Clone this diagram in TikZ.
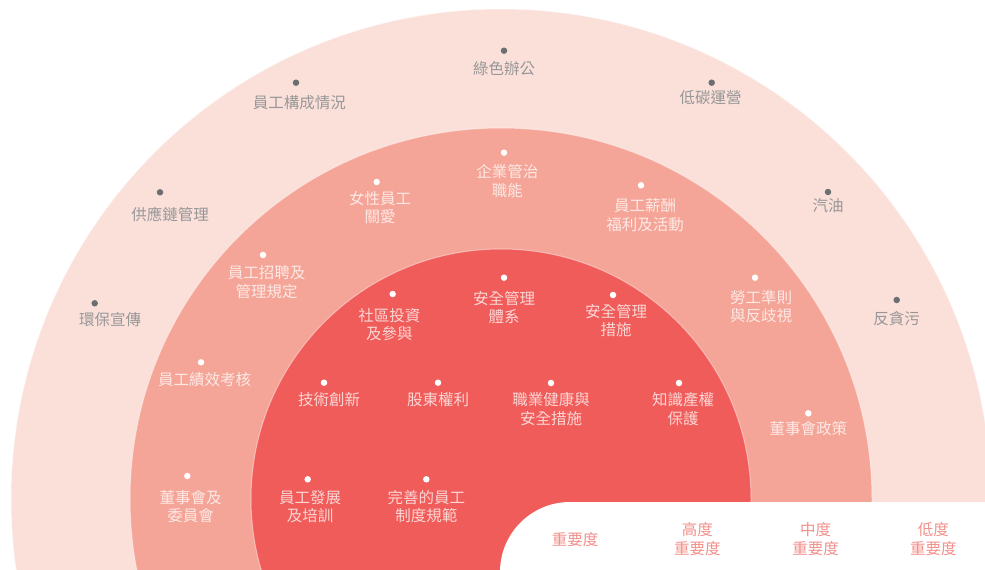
\documentclass[tikz,border=0pt]{standalone}
\usepackage{fontspec}
\setmainfont{Noto Sans CJK TC}
\definecolor{ringA}{HTML}{FBE0DA}
\definecolor{ringB}{HTML}{F5A597}
\definecolor{ringC}{HTML}{F05C59}
\definecolor{dotgray}{HTML}{6D6E71}
\definecolor{labgray}{HTML}{979797}
\definecolor{legtxt}{HTML}{F2908B}
\begin{document}
\begin{tikzpicture}[x=1pt,y=-1pt,
  ring/.style={draw=white,draw opacity=0.45,line width=1pt},
  gdot/.style={circle,fill=dotgray,inner sep=0pt,minimum size=6.5pt},
  wdot/.style={circle,fill=white,inner sep=0pt,minimum size=6.5pt},
  lab/.style={align=center,inner sep=0pt,font=\fontsize{15.5}{18.5}\selectfont},
  glabel/.style={lab,text=labgray},
  wlabel/.style={lab,text=white,text opacity=0.75},
  leglabel/.style={lab,text=legtxt}]
\useasboundingbox (0,0) rectangle (985,570);
\begin{scope}
\clip (0,0) rectangle (985,570);
\fill[white] (0,0) rectangle (985,570);
\filldraw[ring,fill=ringA] (501,499) circle (490pt);
\filldraw[ring,fill=ringB] (501,499) circle (371pt);
\filldraw[ring,fill=ringC] (501,499) circle (250pt);
\fill[white] (1000,600) -- (500,600) [rounded corners=70pt] -- (500,502) [sharp corners] -- (1000,502) -- cycle;
\end{scope}

% outer ring (low importance)
\node[gdot] (d1) at (504,50.7) {};
\node[glabel] (t1) at (504,68.3) {綠色辦公};
\node[gdot] (d2) at (296,82.7) {};
\node[glabel] (t2) at (299.3,103) {員工構成情況};
\node[gdot] (d3) at (711.7,82.7) {};
\node[glabel] (t3) at (710.7,97.3) {低碳運營};
\node[gdot] (d4) at (160,192.3) {};
\node[glabel] (t4) at (170,214.3) {供應鏈管理};
\node[gdot] (d5) at (828,192) {};
\node[glabel] (t5) at (828,206) {汽油};
\node[gdot] (d6) at (94.7,303.3) {};
\node[glabel] (t6) at (110,320) {環保宣傳};
\node[gdot] (d7) at (896.7,300) {};
\node[glabel] (t7) at (896.7,318.3) {反貪污};

% middle ring (medium importance)
\node[wdot] (m1) at (504,152.7) {};
\node[wlabel] (n1) at (507.3,181.2) {企業管治\\職能};
\node[wdot] (m2) at (376.7,182) {};
\node[wlabel] (n2) at (380,207.5) {女性員工\\關愛};
\node[wdot] (m3) at (641,185.3) {};
\node[wlabel] (n3) at (645,215.3) {員工薪酬\\福利及活動};
\node[wdot] (m4) at (263,255) {};
\node[wlabel] (n4) at (266.7,282.2) {員工招聘及\\管理規定};
\node[wdot] (m5) at (755,277.7) {};
\node[wlabel] (n5) at (761,306.7) {勞工準則\\與反歧視};
\node[wdot] (m6) at (201,362.3) {};
\node[wlabel] (n6) at (204.7,380) {員工績效考核};
\node[wdot] (m7) at (808.3,413.3) {};
\node[wlabel] (n7) at (808.3,429) {董事會政策};
\node[wdot] (m8) at (187.3,476) {};
\node[wlabel] (n8) at (190.7,506.7) {董事會及\\委員會};

% inner ring (high importance)
\node[wdot] (c1) at (504,277.7) {};
\node[wlabel] (e1) at (504,307.5) {安全管理\\體系};
\node[wdot] (c2) at (392.7,294) {};
\node[wlabel] (e2) at (389.3,324.7) {社區投資\\及參與};
\node[wdot] (c3) at (613,295) {};
\node[wlabel] (e3) at (616,320.5) {安全管理\\措施};
\node[wdot] (c4) at (324,382.7) {};
\node[wlabel] (e4) at (329,400) {技術創新};
\node[wdot] (c5) at (438,382.7) {};
\node[wlabel] (e5) at (438,400) {股東權利};
\node[wdot] (c6) at (551,383) {};
\node[wlabel] (e6) at (551,409) {職業健康與\\安全措施};
\node[wdot] (c7) at (679,383) {};
\node[wlabel] (e7) at (683,409) {知識產權\\保護};
\node[wdot] (c8) at (307.7,479.3) {};
\node[wlabel] (e8) at (310,506.7) {員工發展\\及培訓};
\node[wdot] (c9) at (426.3,479.3) {};
\node[wlabel] (e9) at (426.3,506.7) {完善的員工\\制度規範};

% legend
\node[leglabel] (l0) at (575,540) {重要度};
\node[leglabel] (l1) at (697.3,539.2) {高度\\重要度};
\node[leglabel] (l2) at (815.7,539.2) {中度\\重要度};
\node[leglabel] (l3) at (933.3,539.2) {低度\\重要度};
\end{tikzpicture}
\end{document}
